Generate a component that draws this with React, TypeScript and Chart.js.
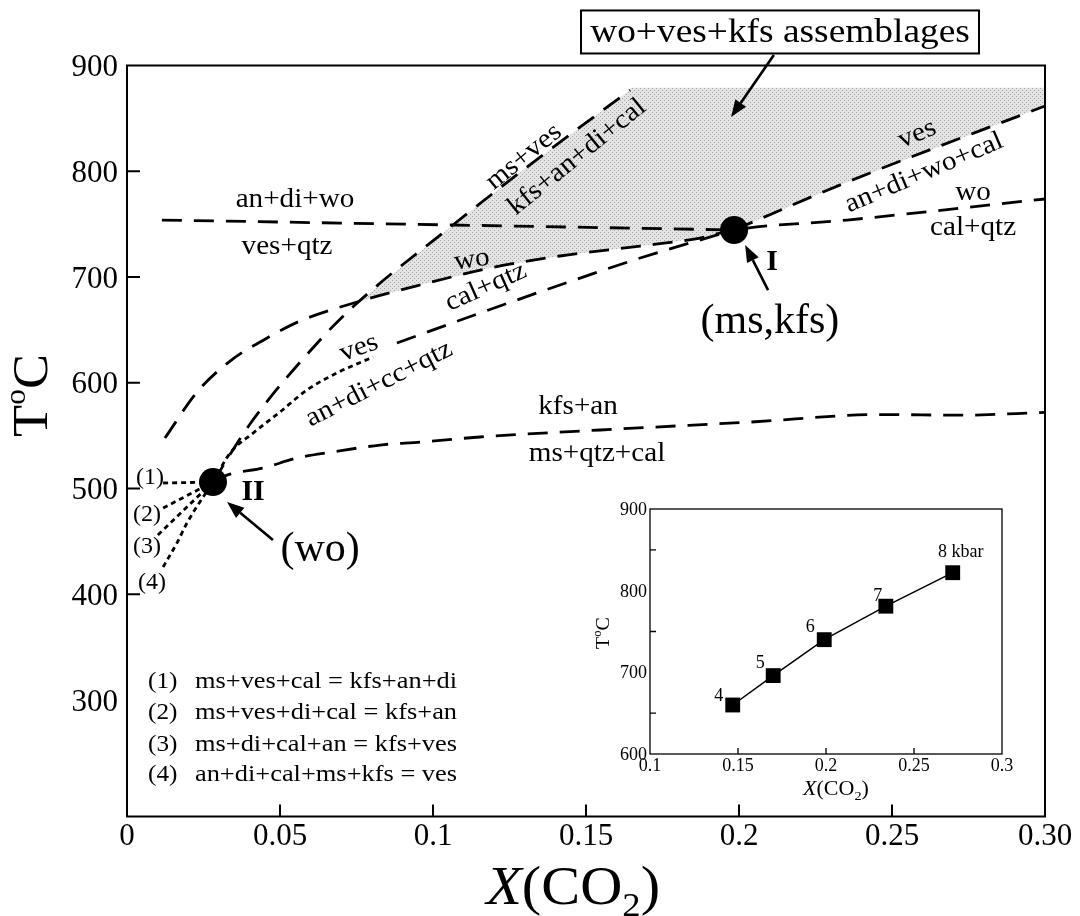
import React, { useEffect, useRef } from 'react';
import { Chart, registerables } from 'chart.js';

Chart.register(...registerables);

const SERIF = '"Liberation Serif", "Times New Roman", Times, serif';

// ================= Main diagram: X(CO2) versus T (°C) =================
const xTickValues = [0, 0.05, 0.1, 0.15, 0.2, 0.25, 0.3];
const xTickLabels = ['0', '0.05', '0.1', '0.15', '0.2', '0.25', '0.30'];
const yTickValues = [300, 400, 500, 600, 700, 800, 900];
const yTickLabels = ['300', '400', '500', '600', '700', '800', '900'];
const xInnerTickValues = [0.05, 0.1, 0.15, 0.2, 0.25];
const yInnerTickValues = [400, 500, 600, 700, 800];

// invariant points
const invariantI = [0.1984, 744.5];
const invariantII = [0.0281, 506.2];

// reaction curves, [X(CO2), T]
const curveAnDiWo = [[0.0114, 753.9], [0.1065, 749.2], [0.1984, 744.5]];
const curveMsVes = [[0.0281, 506.2], [0.0402, 561.1], [0.0631, 640.5], [0.0745, 673.6], [0.1065, 749.2], [0.1307, 804.0], [0.1644, 876.8]];
const curveWoCalQtz = [[0.0124, 547.8], [0.0229, 591.3], [0.0337, 620.6], [0.0458, 642.4], [0.0565, 658.4], [0.0752, 676.4], [0.0958, 692.5], [0.1186, 708.5], [0.1415, 719.9], [0.1677, 729.3], [0.1873, 736.9], [0.1984, 744.5], [0.2353, 753.9], [0.3, 773.8]];
const curveVesDotted = [[0.0281, 506.2], [0.0337, 533.6], [0.0412, 552.5], [0.05, 572.4], [0.0588, 593.2], [0.0686, 609.3], [0.0804, 624.4]];
const curveVesDashed = [[0.0882, 637.6], [0.1154, 666.0], [0.1415, 692.5], [0.1677, 718.0], [0.1984, 744.5]];
const curveVesUpper = [[0.1984, 744.5], [0.2346, 788.9], [0.3, 861.7]];
const curveKfsAn = [[0.0281, 506.2], [0.0327, 512.8], [0.0444, 519.4], [0.0556, 528.9], [0.0673, 534.6], [0.0827, 541.2], [0.0958, 544.0], [0.1154, 548.8], [0.1546, 555.4], [0.2036, 562.9], [0.2461, 570.0], [0.2722, 569.4], [0.3, 572.0]];
const reaction1 = [[0.0118, 505.3], [0.0281, 506.2]];
const reaction2 = [[0.0118, 481.6], [0.0281, 506.2]];
const reaction3 = [[0.0101, 456.1], [0.0281, 506.2]];
const reaction4 = [[0.0118, 425.9], [0.0163, 448.5], [0.0196, 467.5], [0.0281, 506.2]];
// wo+ves+kfs field (shaded)
const shadedField = [[0.0745, 673.6], [0.1065, 749.2], [0.1307, 804.0], [0.1644, 876.8], [0.1644, 879], [0.3, 879], [0.3, 861.7], [0.2346, 788.9], [0.1984, 744.5], [0.1873, 736.9], [0.1677, 729.3], [0.1415, 719.9], [0.1186, 708.5], [0.0958, 692.5], [0.0752, 676.4]];

// ================= Inset: invariant point I versus pressure =================
const insetX = [0.147, 0.17, 0.199, 0.234, 0.272];
const insetT = [660, 696, 740, 781, 822];
const insetPointLabels = ['4', '5', '6', '7', '8 kbar'];
const insetXTickValues = [0.1, 0.15, 0.2, 0.25, 0.3];
const insetXTickLabels = ['0.1', '0.15', '0.2', '0.25', '0.3'];
const insetYTickValues = [600, 700, 800, 900];
const insetYTickLabels = ['600', '700', '800', '900'];
const insetYMinorTicks = [650, 750, 850];
const insetXMinorTicks = [0.15, 0.2, 0.25];

// ================= Annotations =================
const fieldLabels = [
  { text: 'an+di+wo', x: 0.0549, y: 772.8, rot: 0 },
  { text: 'ves+qtz', x: 0.0523, y: 728.4, rot: 0 },
  { text: 'ms+ves', x: 0.1297, y: 813.5, rot: -39 },
  { text: 'kfs+an+di+cal', x: 0.1471, y: 813.5, rot: -39 },
  { text: 'wo', x: 0.1127, y: 716.1, rot: -8 },
  { text: 'cal+qtz', x: 0.1173, y: 690.6, rot: -24 },
  { text: 'ves', x: 0.0758, y: 632.9, rot: -20 },
  { text: 'an+di+cc+qtz', x: 0.0824, y: 598.9, rot: -27 },
  { text: 'kfs+an', x: 0.1474, y: 577.1, rot: 0 },
  { text: 'ms+qtz+cal', x: 0.1536, y: 532.7, rot: 0 },
  { text: 'ves', x: 0.2582, y: 835.2, rot: -22 },
  { text: 'an+di+wo+cal', x: 0.2605, y: 798.4, rot: -23 },
  { text: 'wo', x: 0.2765, y: 779.5, rot: 0 },
  { text: 'cal+qtz', x: 0.2765, y: 746.4, rot: 0 },
];
const reactionTags = [
  { text: '(1)', x: 0.0075, y: 510 },
  { text: '(2)', x: 0.0065, y: 475 },
  { text: '(3)', x: 0.0065, y: 444.8 },
  { text: '(4)', x: 0.0082, y: 410.7 },
];
const pointTags = [
  { text: 'I', x: 0.2108, y: 714.2, size: 30, weight: 'bold', sx: 1 },
  { text: '(ms,kfs)', x: 0.2101, y: 657.5, size: 42, weight: 'normal', sx: 1.0 },
  { text: 'II', x: 0.0412, y: 496.7, size: 30, weight: 'bold', sx: 1 },
  { text: '(wo)', x: 0.0631, y: 442, size: 42, weight: 'normal', sx: 1.0 },
];
const arrows = [
  { from: [0.2114, 909.9], to: [0.1974, 851.3] },
  { from: [0.2095, 687.7], to: [0.202, 730.3] },
  { from: [0.0477, 451.4], to: [0.0327, 487.3] },
];
const boxLabel = { text: 'wo+ves+kfs assemblages', x: 0.2134, y: 931.7 };
const reactionLegend = [
  { num: '(1)', eq: 'ms+ves+cal = kfs+an+di', y: 317.1 },
  { num: '(2)', eq: 'ms+ves+di+cal = kfs+an', y: 287.8 },
  { num: '(3)', eq: 'ms+di+cal+an = kfs+ves', y: 257.5 },
  { num: '(4)', eq: 'an+di+cal+ms+kfs = ves', y: 229.1 },
];
const legendNumX = 0.0069;
const legendEqX = 0.0222;

// ================= helpers =================
type Run = { t: string; size: number; style?: string; weight?: string; dy?: number };

function drawRuns(
  ctx: CanvasRenderingContext2D,
  runs: Run[],
  x: number,
  y: number,
  opts: { rot?: number; sx?: number; align?: 'left' | 'center' | 'right'; baseline?: CanvasTextBaseline } = {}
) {
  ctx.save();
  ctx.translate(x, y);
  ctx.rotate(((opts.rot || 0) * Math.PI) / 180);
  ctx.scale(opts.sx || 1, 1);
  ctx.textBaseline = opts.baseline || 'alphabetic';
  ctx.textAlign = 'left';
  ctx.fillStyle = '#000';
  const fonts = runs.map((r) => `${r.style || 'normal'} ${r.weight || 'normal'} ${r.size}px ${SERIF}`);
  const widths = runs.map((r, i) => {
    ctx.font = fonts[i];
    return ctx.measureText(r.t).width;
  });
  const total = widths.reduce((a, b) => a + b, 0);
  let cx = opts.align === 'left' ? 0 : opts.align === 'right' ? -total : -total / 2;
  runs.forEach((r, i) => {
    ctx.font = fonts[i];
    ctx.fillText(r.t, cx, r.dy || 0);
    cx += widths[i];
  });
  ctx.restore();
}

function drawArrow(ctx: CanvasRenderingContext2D, x1: number, y1: number, x2: number, y2: number) {
  const ang = Math.atan2(y2 - y1, x2 - x1);
  const head = 17;
  const hw = 6.5;
  const bx = x2 - head * Math.cos(ang);
  const by = y2 - head * Math.sin(ang);
  ctx.lineWidth = 2.6;
  ctx.beginPath();
  ctx.moveTo(x1, y1);
  ctx.lineTo(bx, by);
  ctx.stroke();
  ctx.beginPath();
  ctx.moveTo(x2, y2);
  ctx.lineTo(bx + hw * Math.sin(ang), by - hw * Math.cos(ang));
  ctx.lineTo(bx - hw * Math.sin(ang), by + hw * Math.cos(ang));
  ctx.closePath();
  ctx.fill();
}

const toPts = (arr: number[][]) => arr.map(([x, y]) => ({ x, y }));

function curveDataset(arr: number[][], dash: number[], smooth = true) {
  return {
    data: toPts(arr),
    borderColor: '#000',
    borderWidth: 2.8,
    borderDash: dash,
    pointRadius: 0,
    fill: false,
    tension: 0,
    cubicInterpolationMode: smooth ? 'monotone' : 'default',
    order: 2,
  };
}

function makeStipple(): CanvasPattern | string {
  const c = document.createElement('canvas');
  c.width = 4;
  c.height = 4;
  const g = c.getContext('2d');
  if (!g) return '#dcdcdc';
  g.fillStyle = '#e4e4e4';
  g.fillRect(0, 0, 4, 4);
  g.fillStyle = '#a6a6a6';
  g.fillRect(0, 0, 1, 1);
  g.fillRect(2, 2, 1, 1);
  return g.createPattern(c, 'repeat') || '#dcdcdc';
}

const DASH = [20, 12];
const DOT = [5, 4];

const mainDecor = {
  id: 'mainDecor',
  afterDatasetsDraw(chart: any) {
    const { ctx, chartArea: a, scales } = chart;
    const px = (v: number) => scales.x.getPixelForValue(v);
    const py = (v: number) => scales.y.getPixelForValue(v);
    ctx.save();
    ctx.strokeStyle = '#000';
    ctx.fillStyle = '#000';

    // frame
    ctx.lineWidth = 2;
    ctx.strokeRect(a.left, a.top, a.right - a.left, a.bottom - a.top);

    // inward ticks
    ctx.beginPath();
    xInnerTickValues.forEach((v) => {
      ctx.moveTo(px(v), a.bottom);
      ctx.lineTo(px(v), a.bottom - 12);
    });
    yInnerTickValues.forEach((v) => {
      ctx.moveTo(a.left, py(v));
      ctx.lineTo(a.left + 13, py(v));
    });
    ctx.stroke();

    // tick labels
    xTickValues.forEach((v, i) => drawRuns(ctx, [{ t: xTickLabels[i], size: 31 }], px(v), a.bottom + 28, { sx: 1.0 }));
    yTickValues.forEach((v, i) =>
      drawRuns(ctx, [{ t: yTickLabels[i], size: 31 }], a.left - 9, py(v) + 10.5, { sx: 1.0, align: 'right' })
    );

    // axis titles
    drawRuns(
      ctx,
      [
        { t: 'T', size: 50 },
        { t: 'o', size: 30, dy: -22 },
        { t: 'C', size: 50 },
      ],
      a.left - 80,
      a.top + 330,
      { rot: -90, sx: 1.05 }
    );
    drawRuns(
      ctx,
      [
        { t: 'X', size: 54, style: 'italic' },
        { t: '(CO', size: 54 },
        { t: '2', size: 34, dy: 12 },
        { t: ')', size: 54 },
      ],
      px(0.1458),
      a.bottom + 87,
      { sx: 1.08 }
    );

    // field labels
    fieldLabels.forEach((l) =>
      drawRuns(ctx, [{ t: l.text, size: 27 }], px(l.x), py(l.y), { rot: l.rot, sx: 1.08, baseline: 'middle' })
    );
    reactionTags.forEach((l) => drawRuns(ctx, [{ t: l.text, size: 24 }], px(l.x), py(l.y), { sx: 1.0, baseline: 'middle' }));
    pointTags.forEach((l) =>
      drawRuns(ctx, [{ t: l.text, size: l.size, weight: l.weight }], px(l.x), py(l.y), { sx: l.sx, baseline: 'middle' })
    );

    // legend of reactions
    reactionLegend.forEach((r) => {
      drawRuns(ctx, [{ t: r.num, size: 24 }], px(legendNumX), py(r.y), { sx: 1.05, align: 'left', baseline: 'middle' });
      drawRuns(ctx, [{ t: r.eq, size: 24 }], px(legendEqX), py(r.y), { sx: 1.1, align: 'left', baseline: 'middle' });
    });

    // boxed label
    const bx = px(boxLabel.x);
    const by = py(boxLabel.y);
    ctx.fillStyle = '#fff';
    ctx.fillRect(bx - 199, by - 21.5, 398, 43);
    ctx.lineWidth = 2;
    ctx.strokeRect(bx - 199, by - 21.5, 398, 43);
    ctx.fillStyle = '#000';
    drawRuns(ctx, [{ t: boxLabel.text, size: 34 }], bx, by + 1, { sx: 1.1, baseline: 'middle' });

    // arrows
    arrows.forEach((ar) => drawArrow(ctx, px(ar.from[0]), py(ar.from[1]), px(ar.to[0]), py(ar.to[1])));
    ctx.restore();
  },
};

const insetDecor = {
  id: 'insetDecor',
  afterDatasetsDraw(chart: any) {
    const { ctx, chartArea: a, scales } = chart;
    const px = (v: number) => scales.x.getPixelForValue(v);
    const py = (v: number) => scales.y.getPixelForValue(v);
    ctx.save();
    ctx.strokeStyle = '#000';
    ctx.fillStyle = '#000';
    ctx.lineWidth = 1.3;
    ctx.strokeRect(a.left, a.top, a.right - a.left, a.bottom - a.top);
    ctx.beginPath();
    insetYMinorTicks.forEach((v) => {
      ctx.moveTo(a.left, py(v));
      ctx.lineTo(a.left + 6, py(v));
    });
    insetXMinorTicks.forEach((v) => {
      ctx.moveTo(px(v), a.bottom);
      ctx.lineTo(px(v), a.bottom - 6);
    });
    ctx.stroke();
    insetYTickValues.forEach((v, i) =>
      drawRuns(ctx, [{ t: insetYTickLabels[i], size: 18 }], a.left - 3, py(v) + 6, { align: 'right', sx: 1.0 })
    );
    insetXTickValues.forEach((v, i) => drawRuns(ctx, [{ t: insetXTickLabels[i], size: 18 }], px(v), a.bottom + 17, { sx: 1.0 }));
    const offsets = [
      [-14, -9],
      [-13, -12],
      [-14, -12],
      [-8, -10],
      [8, -20],
    ];
    insetX.forEach((x, i) =>
      drawRuns(ctx, [{ t: insetPointLabels[i], size: 18 }], px(x) + offsets[i][0], py(insetT[i]) + offsets[i][1], {
        baseline: 'middle',
        sx: 1.0,
      })
    );
    drawRuns(
      ctx,
      [
        { t: 'T', size: 19 },
        { t: 'o', size: 12, dy: -8 },
        { t: 'C', size: 19 },
      ],
      a.left - 41,
      a.top + 124,
      { rot: -90, sx: 1.05 }
    );
    drawRuns(
      ctx,
      [
        { t: 'X', size: 20, style: 'italic' },
        { t: '(CO', size: 20 },
        { t: '2', size: 13, dy: 5 },
        { t: ')', size: 20 },
      ],
      px(0.2) + 10,
      a.bottom + 41,
      { sx: 1.1 }
    );
    ctx.restore();
  },
};

export default function App() {
  const mainRef = useRef<HTMLCanvasElement | null>(null);
  const insetRef = useRef<HTMLCanvasElement | null>(null);

  useEffect(() => {
    document.body.style.margin = '0';
    if (!mainRef.current || !insetRef.current) return;

    const datasets: any[] = [
      {
        data: [invariantI, invariantII].map(([x, y]) => ({ x, y })),
        showLine: false,
        pointRadius: 14,
        pointBackgroundColor: '#000',
        pointBorderWidth: 0,
        order: 1,
      },
      curveDataset(curveAnDiWo, DASH),
      curveDataset(curveMsVes, DASH),
      curveDataset(curveWoCalQtz, DASH),
      curveDataset(curveVesDotted, DOT),
      curveDataset(curveVesDashed, DASH),
      curveDataset(curveVesUpper, DASH),
      curveDataset(curveKfsAn, DASH),
      curveDataset(reaction1, DOT, false),
      curveDataset(reaction2, DOT, false),
      curveDataset(reaction3, DOT, false),
      curveDataset(reaction4, DOT),
      {
        data: toPts(shadedField),
        borderColor: 'rgba(0,0,0,0)',
        borderWidth: 0,
        backgroundColor: makeStipple(),
        fill: 'shape',
        pointRadius: 0,
        tension: 0,
        order: 3,
      },
    ];

    const main = new Chart(mainRef.current, {
      type: 'line',
      data: { datasets },
      options: {
        animation: false,
        responsive: false,
        maintainAspectRatio: false,
        layout: { padding: { left: 127, right: 35, top: 65.5, bottom: 99.5 } },
        scales: {
          x: { type: 'linear', min: 0, max: 0.3, display: false },
          y: { type: 'linear', min: 190, max: 900, display: false },
        },
        plugins: { legend: { display: false }, tooltip: { enabled: false } },
      },
      plugins: [mainDecor],
    } as any);

    const inset = new Chart(insetRef.current, {
      type: 'line',
      data: {
        datasets: [
          {
            data: insetX.map((x, i) => ({ x, y: insetT[i] })),
            borderColor: '#000',
            borderWidth: 1.5,
            pointStyle: 'rect',
            pointRadius: 10.5,
            pointBackgroundColor: '#000',
            pointBorderWidth: 0,
            tension: 0,
            fill: false,
          },
        ],
      },
      options: {
        animation: false,
        responsive: false,
        maintainAspectRatio: false,
        layout: { padding: { left: 90, right: 38, top: 29, bottom: 56 } },
        scales: {
          x: { type: 'linear', min: 0.1, max: 0.3, display: false },
          y: { type: 'linear', min: 600, max: 900, display: false },
        },
        plugins: { legend: { display: false }, tooltip: { enabled: false } },
      },
      plugins: [insetDecor],
    } as any);

    return () => {
      main.destroy();
      inset.destroy();
    };
  }, []);

  return (
    <div style={{ position: 'absolute', left: 0, top: 0, width: 1080, height: 916, background: '#fff' }}>
      <canvas ref={mainRef} width={1080} height={916} style={{ position: 'absolute', left: 0, top: 0, width: 1080, height: 916 }} />
      <canvas ref={insetRef} width={480} height={330} style={{ position: 'absolute', left: 560, top: 480, width: 480, height: 330 }} />
    </div>
  );
}
